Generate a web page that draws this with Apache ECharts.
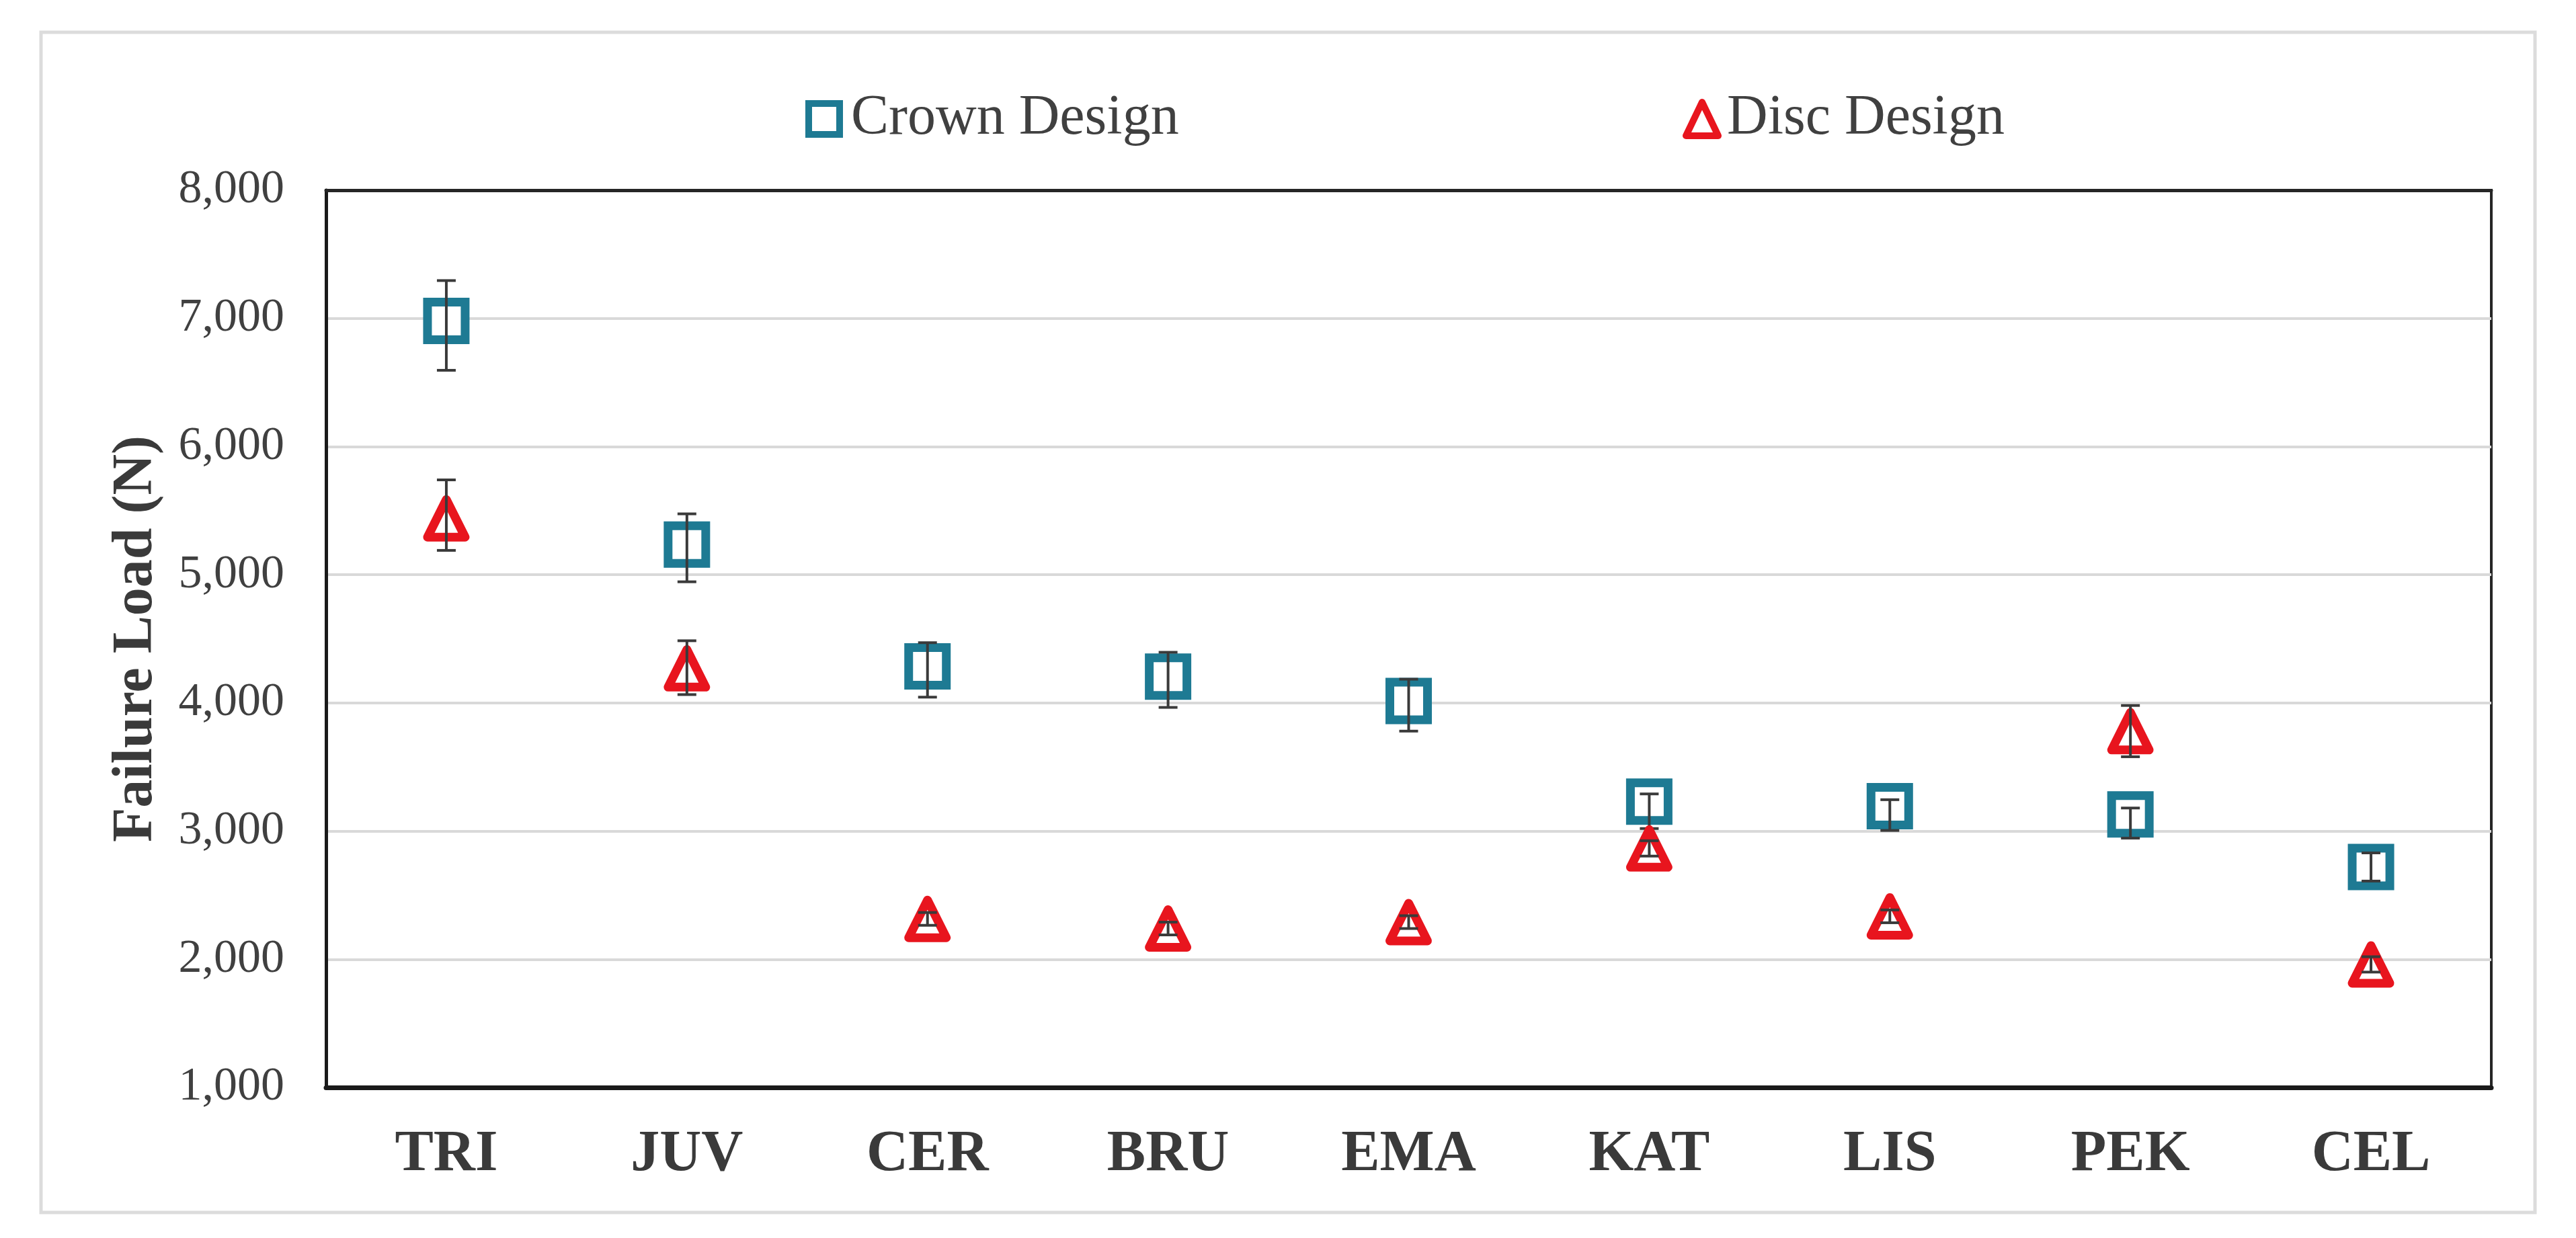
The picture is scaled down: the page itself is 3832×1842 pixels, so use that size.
<!DOCTYPE html>
<html>
<head>
<meta charset="utf-8">
<script src="https://cdn.jsdelivr.net/npm/echarts@6/dist/echarts.min.js"></script>
<style>
  html, body { margin: 0; padding: 0; background: #ffffff; }
  #chart { width: 3832px; height: 1842px; }
</style>
</head>
<body>
<div id="chart"></div>
<script>
// ---- data ----
const categories = ['TRI', 'JUV', 'CER', 'BRU', 'EMA', 'KAT', 'LIS', 'PEK', 'CEL'];
const crownMean     = [6980, 5235, 4285, 4205, 4015, 3230, 3195, 3130, 2720];
const crownErrUp    = [315, 240, 185, 190, 170, 60, 50, 50, 110];
const crownErrDown  = [385, 290, 240, 240, 235, 210, 190, 185, 110];
const discMean      = [5440, 4270, 2315, 2240, 2290, 2865, 2335, 3780, 1960];
const discErrUp     = [300, 215, 50, 50, 50, 60, 50, 200, 60];
const discErrDown   = [250, 205, 50, 50, 50, 60, 50, 200, 60];
const yTicks = [1000, 2000, 3000, 4000, 5000, 6000, 7000, 8000];

const crownColor = '#1E7A93';
const discColor = '#E8151E';
const errColor = '#3a3a3a';
const serif = '"Liberation Serif", "DejaVu Serif", serif';

function errData(mean, up, down) {
  return mean.map((m, i) => [i, m - down[i], m + up[i]]);
}

function renderErr(params, api) {
  const x = api.value(0);
  const lo = api.coord([x, api.value(1)]);
  const hi = api.coord([x, api.value(2)]);
  const cap = 14;
  const style = { stroke: errColor, lineWidth: 4, fill: null };
  return {
    type: 'group',
    children: [
      { type: 'line', shape: { x1: hi[0], y1: hi[1], x2: lo[0], y2: lo[1] }, style: style },
      { type: 'line', shape: { x1: hi[0] - cap, y1: hi[1], x2: hi[0] + cap, y2: hi[1] }, style: style },
      { type: 'line', shape: { x1: lo[0] - cap, y1: lo[1], x2: lo[0] + cap, y2: lo[1] }, style: style }
    ]
  };
}

const chart = echarts.init(document.getElementById('chart'), null, { renderer: 'canvas' });

chart.setOption({
  animation: false,
  backgroundColor: '#ffffff',
  graphic: [{
    type: 'rect',
    shape: { x: 61, y: 48, width: 3710, height: 1756 },
    style: { fill: null, stroke: '#dcdcdc', lineWidth: 5 },
    z: -10
  }],
  legend: [
    {
      data: ['Crown Design'],
      left: 1193, top: 130,
      itemWidth: 46, itemHeight: 46,
      itemStyle: { borderWidth: 10 },
      textStyle: { fontFamily: serif, fontSize: 84, color: '#404040', padding: [0, 0, 0, 12] }
    },
    {
      data: ['Disc Design'],
      left: 2498, top: 130,
      itemWidth: 48, itemHeight: 50,
      itemStyle: { borderWidth: 10 },
      textStyle: { fontFamily: serif, fontSize: 84, color: '#404040', padding: [0, 0, 0, 8] }
    }
  ],
  grid: {
    left: 485, right: 126, top: 283, bottom: 224,
    show: true, borderColor: '#262626', borderWidth: 4,
    containLabel: false
  },
  xAxis: [
    {
      type: 'category',
      data: categories,
      boundaryGap: true,
      axisTick: { show: false },
      axisLine: { show: true, lineStyle: { color: '#1a1a1a', width: 7 } },
      axisLabel: {
        fontFamily: serif, fontWeight: 'bold', fontSize: 86, color: '#3a3a3a', margin: 58
      },
      splitLine: { show: false },
      z: 10
    },
    {
      type: 'category',
      position: 'top',
      data: categories,
      boundaryGap: true,
      axisTick: { show: false },
      axisLabel: { show: false },
      axisLine: { show: true, lineStyle: { color: '#262626', width: 5 } },
      splitLine: { show: false },
      z: 10
    }
  ],
  yAxis: {
    type: 'value',
    min: yTicks[0], max: yTicks[yTicks.length - 1], interval: 1000,
    axisLine: { show: true, lineStyle: { color: '#1a1a1a', width: 5 } },
    axisTick: { show: false },
    splitLine: { show: true, lineStyle: { color: '#d9d9d9', width: 4 } },
    axisLabel: {
      fontFamily: serif, fontSize: 70, color: '#404040', margin: 62,
      formatter: v => v.toLocaleString('en-US')
    },
    name: 'Failure Load (N)',
    nameLocation: 'middle',
    nameGap: 240,
    nameTextStyle: { fontFamily: serif, fontWeight: 'bold', fontSize: 84, color: '#3a3a3a' }
  },
  series: [
    {
      name: 'Crown Design',
      type: 'scatter',
      data: crownMean,
      symbol: 'rect',
      symbolSize: 56,
      itemStyle: { color: '#ffffff', borderColor: crownColor, borderWidth: 13, opacity: 1 },
      z: 2
    },
    {
      name: 'Disc Design',
      type: 'scatter',
      data: discMean,
      symbol: 'triangle',
      symbolSize: 56,
      itemStyle: { color: '#ffffff', borderColor: discColor, borderWidth: 13, borderJoin: 'round', opacity: 1 },
      z: 4
    },
    {
      name: 'Crown error',
      type: 'custom',
      data: errData(crownMean, crownErrUp, crownErrDown),
      renderItem: renderErr,
      encode: { x: 0, y: [1, 2] },
      z: 3,
      silent: true
    },
    {
      name: 'Disc error',
      type: 'custom',
      data: errData(discMean, discErrUp, discErrDown),
      renderItem: renderErr,
      encode: { x: 0, y: [1, 2] },
      z: 5,
      silent: true
    }
  ]
});
</script>
</body>
</html>
